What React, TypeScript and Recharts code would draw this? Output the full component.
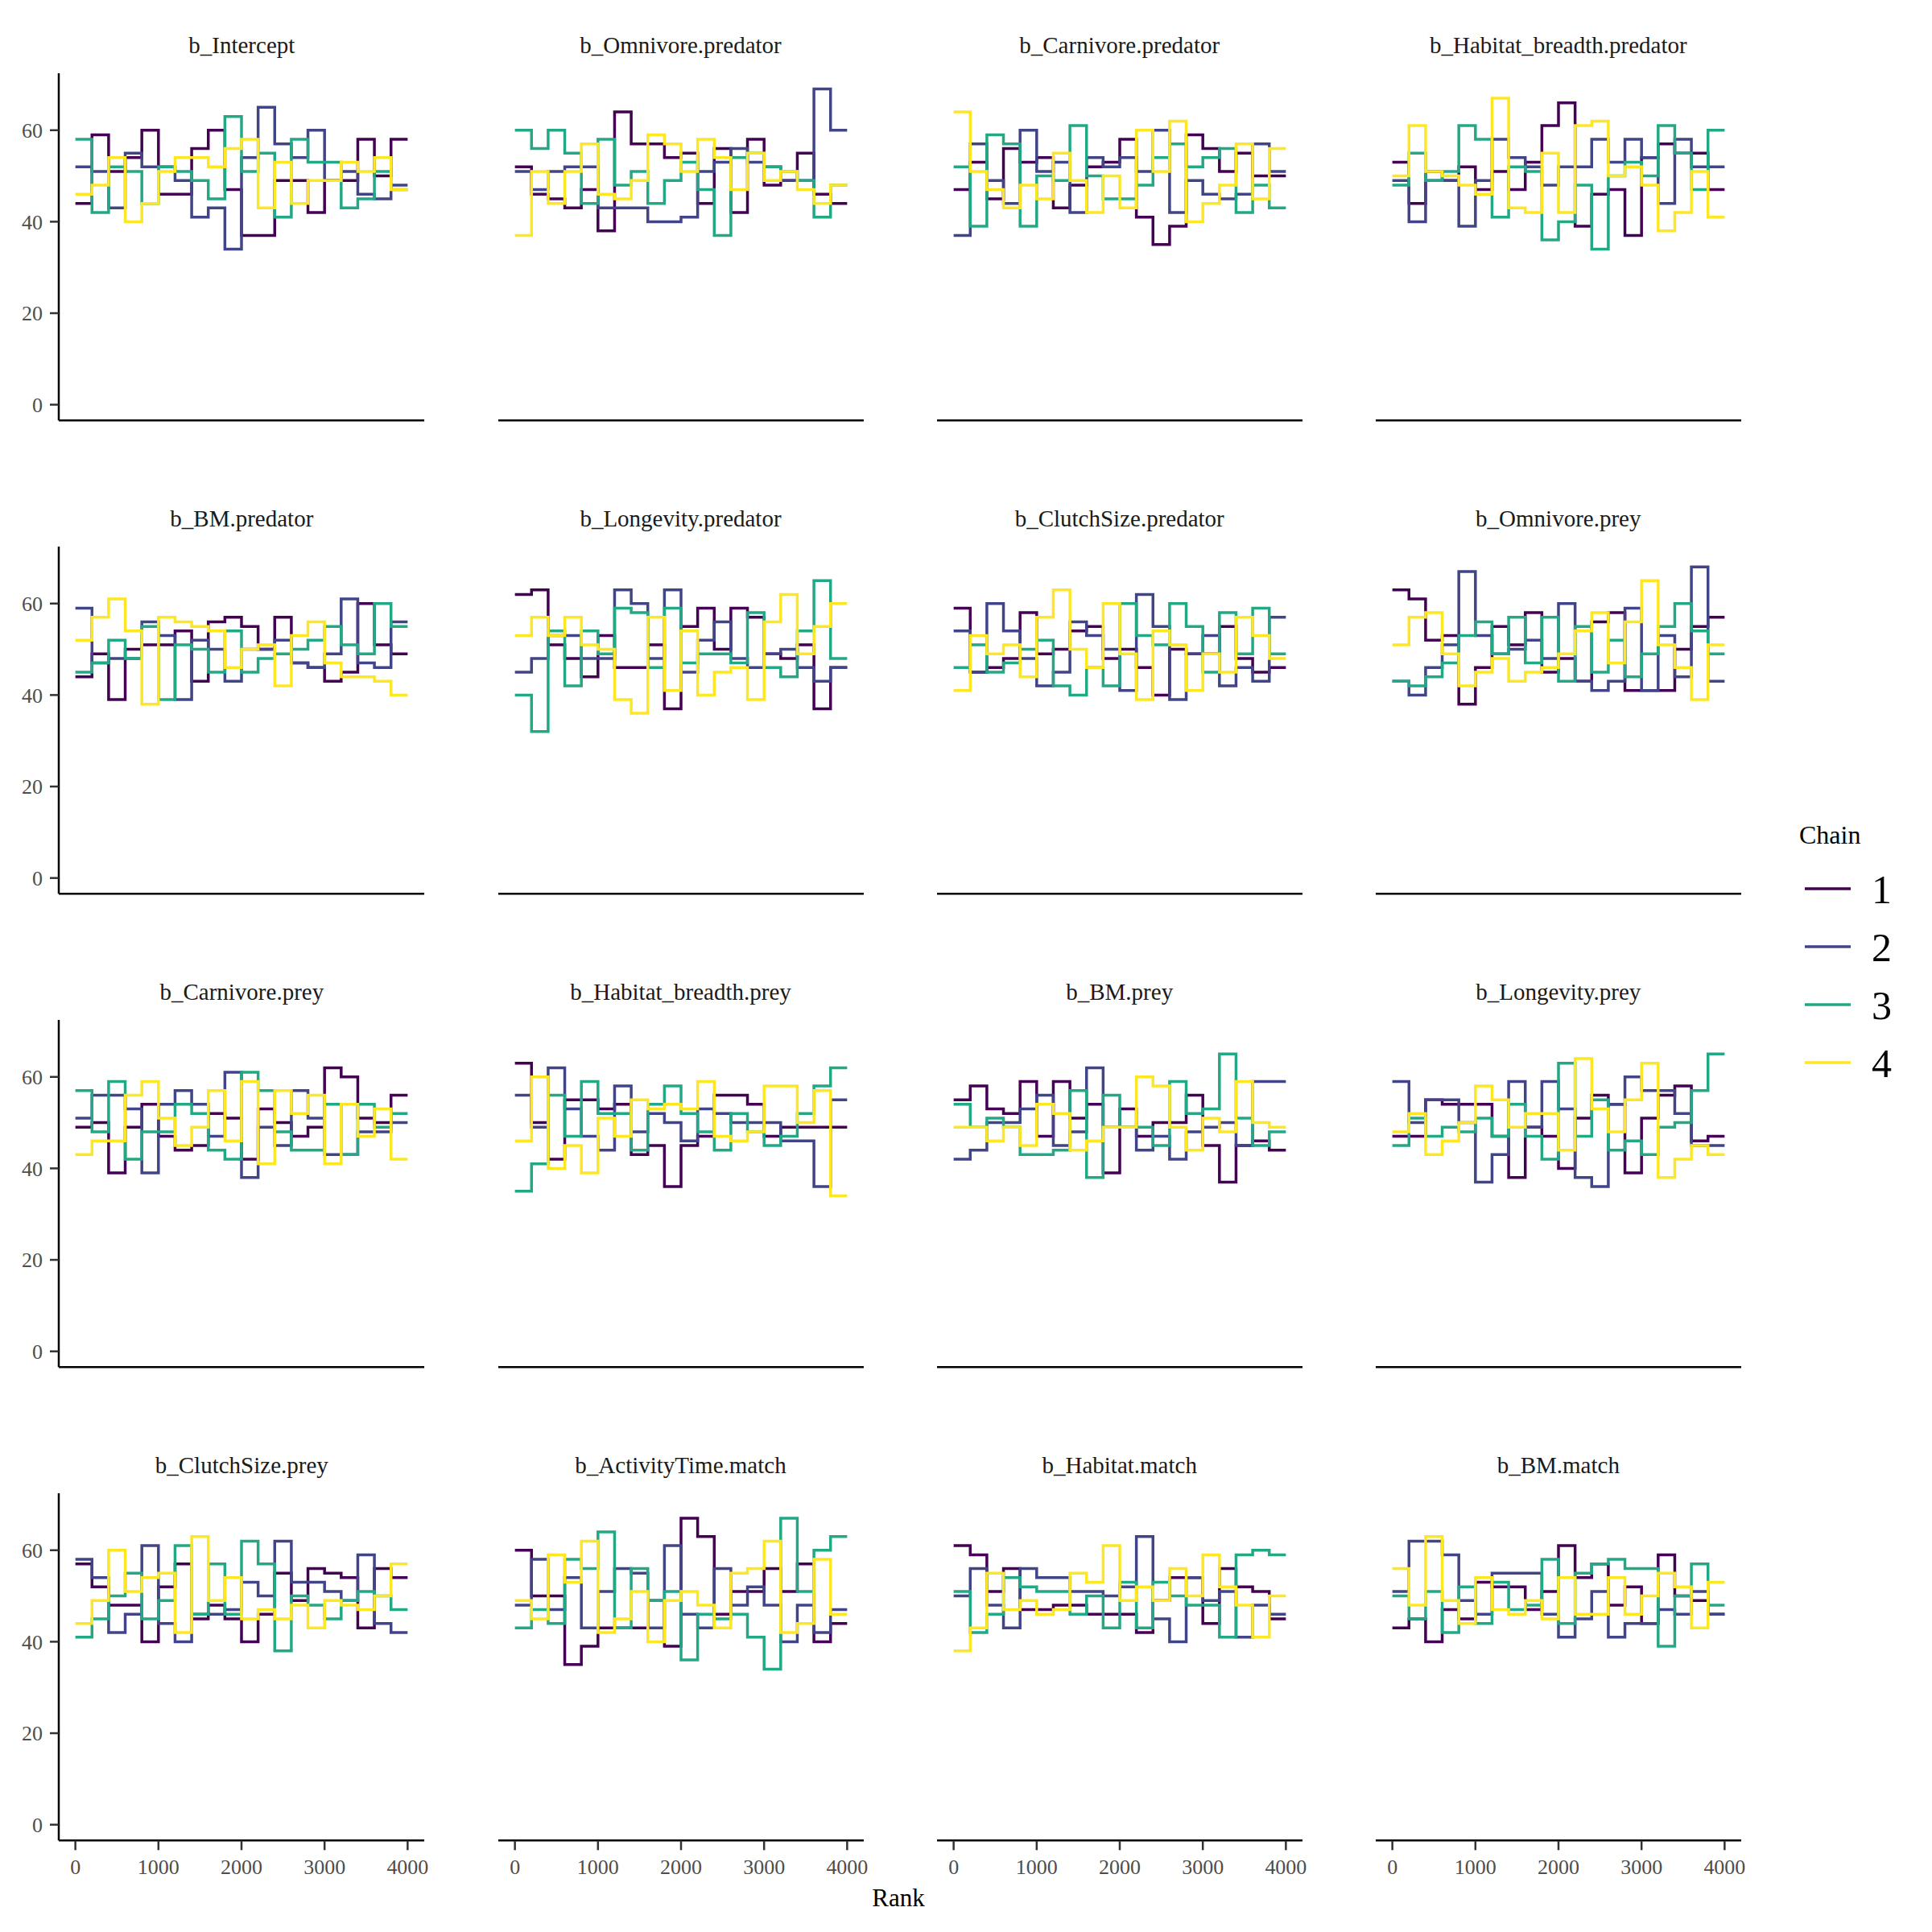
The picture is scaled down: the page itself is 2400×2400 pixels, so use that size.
import React from 'react';
import { LineChart, Line, XAxis, YAxis } from 'recharts';

// ============================================================================
// Data (rank histograms: 20 bins of 200 ranks, 4 chains per parameter)
// ============================================================================

const chains = ['1', '2', '3', '4'];
const chainColors = ['#440154', '#414487', '#22A884', '#FDE725'];
const binEdges = [0, 200, 400, 600, 800, 1000, 1200, 1400, 1600, 1800, 2000, 2200, 2400, 2600, 2800, 3000, 3200, 3400, 3600, 3800, 4000];
const rankTicks = [0, 1000, 2000, 3000, 4000];
const countTicks = [0, 20, 40, 60];

const panelTitles = [
  'b_Intercept', 'b_Omnivore.predator', 'b_Carnivore.predator', 'b_Habitat_breadth.predator',
  'b_BM.predator', 'b_Longevity.predator', 'b_ClutchSize.predator', 'b_Omnivore.prey',
  'b_Carnivore.prey', 'b_Habitat_breadth.prey', 'b_BM.prey', 'b_Longevity.prey',
  'b_ClutchSize.prey', 'b_ActivityTime.match', 'b_Habitat.match', 'b_BM.match',
];

const b_Intercept = [
  [44, 59, 51, 54, 60, 46, 46, 56, 60, 47, 37, 37, 49, 49, 42, 49, 49, 58, 50, 58],
  [52, 51, 43, 55, 52, 52, 49, 41, 43, 34, 54, 65, 57, 54, 60, 49, 51, 46, 45, 48],
  [58, 42, 52, 51, 44, 52, 51, 49, 45, 63, 51, 55, 41, 58, 53, 53, 43, 45, 51, 47],
  [46, 48, 54, 40, 44, 51, 54, 54, 52, 56, 58, 43, 53, 44, 49, 49, 53, 51, 54, 47],
];
const b_Omnivore_predator = [
  [52, 46, 45, 43, 47, 38, 64, 57, 57, 54, 55, 44, 56, 42, 58, 48, 49, 55, 46, 44],
  [51, 47, 51, 52, 52, 43, 43, 43, 40, 40, 41, 51, 53, 56, 53, 52, 49, 49, 69, 60],
  [60, 56, 60, 55, 44, 58, 48, 51, 44, 49, 53, 47, 37, 54, 55, 52, 51, 49, 41, 48],
  [37, 51, 44, 51, 57, 46, 45, 49, 59, 57, 51, 58, 54, 47, 55, 49, 51, 47, 44, 48],
];
const b_Carnivore_predator = [
  [47, 53, 45, 56, 53, 54, 43, 48, 52, 53, 58, 41, 35, 39, 59, 56, 51, 55, 50, 50],
  [37, 57, 49, 44, 60, 51, 53, 42, 54, 52, 54, 51, 60, 42, 49, 46, 45, 46, 57, 51],
  [52, 39, 59, 57, 39, 50, 49, 61, 50, 45, 45, 48, 54, 57, 52, 54, 56, 42, 48, 43],
  [64, 51, 47, 43, 48, 45, 55, 49, 42, 50, 43, 60, 51, 62, 40, 44, 48, 57, 45, 56],
];
const b_Habitat_breadth_predator = [
  [53, 44, 51, 49, 52, 47, 51, 47, 53, 61, 66, 39, 46, 47, 37, 54, 57, 55, 55, 47],
  [49, 40, 49, 49, 39, 49, 58, 54, 52, 48, 52, 52, 58, 53, 58, 54, 44, 58, 52, 52],
  [48, 55, 49, 51, 61, 58, 41, 52, 51, 36, 40, 48, 34, 50, 53, 50, 61, 55, 47, 60],
  [50, 61, 51, 50, 48, 46, 67, 43, 42, 55, 42, 61, 62, 50, 52, 48, 38, 42, 51, 41],
];
const b_BM_predator = [
  [44, 49, 39, 50, 51, 51, 54, 43, 56, 57, 55, 50, 57, 47, 46, 43, 45, 60, 51, 49],
  [59, 47, 48, 48, 56, 53, 39, 52, 50, 43, 50, 50, 52, 47, 46, 49, 61, 47, 46, 56],
  [45, 47, 52, 48, 55, 39, 51, 50, 45, 54, 45, 48, 49, 50, 52, 55, 51, 49, 60, 55],
  [52, 57, 61, 54, 38, 57, 56, 55, 54, 46, 50, 51, 42, 53, 56, 47, 44, 44, 43, 40],
];
const b_Longevity_predator = [
  [62, 63, 51, 48, 44, 53, 46, 46, 51, 37, 55, 59, 50, 59, 57, 49, 48, 51, 37, 46],
  [45, 48, 53, 53, 48, 48, 63, 60, 48, 63, 45, 52, 56, 48, 46, 49, 50, 46, 43, 46],
  [40, 32, 54, 42, 54, 49, 59, 58, 46, 59, 47, 49, 49, 47, 58, 46, 44, 54, 65, 48],
  [53, 57, 53, 57, 51, 50, 39, 36, 57, 41, 54, 40, 45, 46, 39, 56, 62, 49, 55, 60],
];
const b_ClutchSize_predator = [
  [59, 45, 46, 48, 58, 49, 50, 54, 55, 48, 50, 46, 40, 50, 49, 49, 55, 48, 45, 46],
  [54, 45, 60, 54, 48, 42, 45, 56, 53, 50, 41, 62, 55, 39, 49, 53, 42, 46, 43, 57],
  [46, 51, 45, 47, 50, 52, 42, 40, 46, 42, 60, 53, 51, 60, 55, 45, 58, 49, 59, 49],
  [41, 53, 49, 51, 44, 57, 63, 50, 46, 60, 49, 39, 54, 51, 41, 49, 45, 57, 53, 48],
];
const b_Omnivore_prey = [
  [63, 61, 52, 53, 38, 46, 55, 51, 58, 45, 48, 43, 56, 58, 41, 41, 41, 50, 55, 57],
  [43, 40, 46, 51, 67, 53, 49, 50, 52, 48, 60, 43, 41, 43, 59, 41, 53, 44, 68, 43],
  [43, 42, 44, 47, 53, 56, 49, 57, 47, 57, 43, 55, 45, 52, 44, 49, 55, 60, 54, 49],
  [51, 57, 58, 49, 42, 45, 48, 43, 45, 46, 49, 54, 58, 47, 56, 65, 51, 46, 39, 51],
];
const b_Carnivore_prey = [
  [49, 50, 39, 49, 54, 47, 44, 45, 52, 51, 42, 53, 50, 47, 49, 62, 60, 51, 50, 56],
  [51, 56, 56, 53, 39, 54, 57, 54, 47, 61, 38, 49, 45, 57, 51, 43, 43, 48, 48, 50],
  [57, 48, 59, 42, 48, 48, 54, 52, 44, 42, 61, 57, 48, 44, 44, 54, 43, 54, 49, 52],
  [43, 46, 46, 56, 59, 51, 45, 49, 57, 46, 59, 41, 57, 52, 56, 41, 54, 47, 53, 42],
];
const b_Habitat_breadth_prey = [
  [63, 50, 42, 55, 55, 53, 54, 43, 45, 36, 45, 47, 56, 56, 54, 47, 49, 49, 49, 49],
  [56, 49, 62, 53, 47, 44, 58, 48, 52, 50, 46, 53, 52, 50, 50, 50, 46, 46, 36, 55],
  [35, 41, 56, 47, 59, 52, 52, 44, 54, 58, 52, 48, 44, 52, 48, 45, 47, 52, 58, 62],
  [46, 60, 40, 45, 39, 51, 47, 55, 53, 54, 53, 59, 47, 46, 48, 58, 58, 50, 57, 34],
];
const b_BM_prey = [
  [55, 58, 53, 52, 59, 47, 59, 51, 54, 39, 53, 47, 50, 50, 56, 45, 37, 45, 46, 44],
  [42, 44, 50, 50, 53, 56, 45, 48, 62, 49, 49, 44, 47, 42, 48, 49, 50, 45, 59, 59],
  [54, 49, 51, 49, 43, 43, 44, 57, 38, 56, 49, 49, 45, 59, 52, 53, 65, 51, 45, 48],
  [49, 49, 46, 49, 45, 54, 52, 44, 46, 49, 49, 60, 58, 49, 44, 51, 48, 59, 50, 49],
];
const b_Longevity_prey = [
  [47, 47, 55, 54, 54, 54, 47, 38, 49, 47, 40, 51, 56, 54, 39, 51, 56, 58, 46, 47],
  [59, 50, 55, 55, 50, 37, 43, 59, 49, 59, 53, 38, 36, 54, 60, 57, 57, 52, 45, 45],
  [45, 51, 47, 49, 48, 51, 47, 54, 47, 42, 63, 47, 55, 44, 46, 43, 49, 50, 57, 65],
  [48, 52, 43, 46, 50, 58, 55, 49, 52, 52, 44, 64, 53, 48, 55, 63, 38, 42, 45, 43],
];
const b_ClutchSize_prey = [
  [57, 52, 48, 48, 40, 52, 57, 45, 48, 45, 40, 46, 55, 49, 56, 55, 54, 43, 56, 54],
  [58, 54, 42, 46, 61, 44, 40, 46, 46, 47, 53, 50, 62, 53, 53, 51, 49, 59, 44, 42],
  [41, 45, 50, 55, 45, 49, 61, 46, 57, 46, 62, 57, 38, 50, 48, 45, 49, 51, 50, 47],
  [44, 49, 60, 51, 54, 55, 42, 63, 49, 54, 45, 47, 45, 48, 43, 49, 48, 47, 50, 57],
];
const b_ActivityTime_match = [
  [60, 50, 50, 35, 39, 43, 43, 43, 49, 39, 67, 63, 46, 51, 51, 56, 51, 57, 40, 44],
  [48, 58, 47, 54, 43, 51, 56, 55, 43, 61, 46, 43, 56, 48, 52, 48, 40, 48, 42, 47],
  [43, 47, 44, 58, 56, 64, 43, 56, 49, 51, 36, 46, 45, 46, 41, 34, 67, 51, 60, 63],
  [49, 45, 59, 53, 62, 42, 45, 51, 40, 49, 51, 48, 43, 55, 56, 62, 42, 44, 58, 46],
];
const b_Habitat_match = [
  [61, 59, 51, 56, 47, 47, 48, 48, 46, 46, 46, 42, 49, 54, 54, 44, 56, 52, 51, 45],
  [50, 56, 48, 43, 56, 54, 54, 51, 51, 50, 52, 63, 45, 40, 54, 49, 51, 41, 48, 46],
  [51, 42, 46, 54, 52, 51, 51, 46, 50, 43, 53, 43, 53, 50, 48, 48, 41, 59, 60, 59],
  [38, 43, 55, 47, 49, 46, 47, 55, 53, 61, 49, 52, 49, 56, 50, 59, 52, 48, 41, 50],
];
const b_BM_match = [
  [43, 45, 40, 47, 45, 53, 52, 52, 47, 51, 61, 54, 57, 48, 52, 44, 59, 50, 49, 46],
  [51, 62, 62, 59, 49, 46, 55, 55, 55, 46, 41, 45, 51, 41, 44, 44, 47, 46, 51, 46],
  [50, 45, 51, 42, 52, 44, 53, 47, 48, 58, 44, 55, 57, 58, 56, 56, 39, 50, 57, 48],
  [56, 48, 63, 49, 44, 54, 47, 46, 49, 45, 54, 46, 46, 54, 46, 50, 55, 52, 43, 53],
];

const panelValues = [
  b_Intercept, b_Omnivore_predator, b_Carnivore_predator, b_Habitat_breadth_predator,
  b_BM_predator, b_Longevity_predator, b_ClutchSize_predator, b_Omnivore_prey,
  b_Carnivore_prey, b_Habitat_breadth_prey, b_BM_prey, b_Longevity_prey,
  b_ClutchSize_prey, b_ActivityTime_match, b_Habitat_match, b_BM_match,
];

// ============================================================================
// Layout
// ============================================================================

const FONT = "'Liberation Serif', 'Times New Roman', serif";
const PLOT_LEFT = [73.3, 618.5, 1163.7, 1708.8];
const PLOT_TOP = [91.3, 679.3, 1267.3, 1855.3];
const PLOT_W = 454;
const PLOT_H = 431.3;
const AXIS_STROKE = { stroke: '#000000', strokeWidth: 2.5 };
const TICK_STROKE = { stroke: '#333333', strokeWidth: 2.5 };
const TICK_TEXT = { fontSize: 26, fill: '#4D4D4D', fontFamily: FONT };

function buildRows(values: number[][]) {
  return binEdges.map((rank, i) => {
    const k = Math.min(i, values[0].length - 1);
    const row: Record<string, number> = { rank };
    values.forEach((v, c) => {
      row['c' + chains[c]] = v[k];
    });
    return row;
  });
}

function RankPanel({ values, row, col }: { values: number[][]; row: number; col: number }) {
  const data = buildRows(values);
  const firstCol = col === 0;
  const lastRow = row === 3;
  const yW = firstCol ? 73 : 0;
  const xH = lastRow ? 70 : 6;
  const rightPad = 10;

  return (
    <div style={{ position: 'absolute', left: PLOT_LEFT[col] - yW, top: PLOT_TOP[row] }}>
      <LineChart
        width={yW + PLOT_W + rightPad}
        height={PLOT_H + xH}
        data={data}
        margin={{ top: 0, right: rightPad, bottom: 0, left: 0 }}
      >
        <XAxis
          dataKey="rank"
          type="number"
          domain={[-200, 4200]}
          ticks={rankTicks}
          allowDataOverflow
          interval={0}
          height={xH}
          axisLine={AXIS_STROKE}
          tick={lastRow ? TICK_TEXT : false}
          tickLine={lastRow ? TICK_STROKE : false}
          tickSize={12}
          tickMargin={11}
        />
        <YAxis
          type="number"
          domain={[-3.45, 72.45]}
          ticks={countTicks}
          allowDataOverflow
          interval={0}
          hide={!firstCol}
          width={yW}
          axisLine={AXIS_STROKE}
          tick={TICK_TEXT}
          tickLine={TICK_STROKE}
          tickSize={11}
          tickMargin={9}
        />
        {chains.map((ch, c) => (
          <Line
            key={ch}
            dataKey={'c' + ch}
            type="stepAfter"
            stroke={chainColors[c]}
            strokeWidth={3.5}
            dot={false}
            activeDot={false}
            isAnimationActive={false}
          />
        ))}
      </LineChart>
    </div>
  );
}

export default function App() {
  return (
    <div
      style={{
        position: 'absolute',
        left: 0,
        top: 0,
        width: 2400,
        height: 2400,
        background: '#ffffff',
        overflow: 'hidden',
        fontFamily: FONT,
      }}
    >
      {panelValues.map((values, i) => (
        <RankPanel key={panelTitles[i]} values={values} row={Math.floor(i / 4)} col={i % 4} />
      ))}

      <svg width={2400} height={2400} style={{ position: 'absolute', left: 0, top: 0, pointerEvents: 'none' }}>
        {panelTitles.map((t, i) => (
          <text
            key={t}
            x={PLOT_LEFT[i % 4] + PLOT_W / 2}
            y={66 + Math.floor(i / 4) * 588}
            textAnchor="middle"
            fontFamily={FONT}
            fontSize={29}
            fill="#1A1A1A"
          >
            {t}
          </text>
        ))}

        <text x={1116} y={2368} textAnchor="middle" fontFamily={FONT} fontSize={31} fill="#000000">
          Rank
        </text>

        {/* legend */}
        <text x={2235} y={1048} fontFamily={FONT} fontSize={32} fill="#000000">
          Chain
        </text>
        {chains.map((ch, c) => {
          const y = 1104 + c * 72;
          return (
            <g key={ch}>
              <line x1={2242} x2={2299} y1={y} y2={y} stroke={chainColors[c]} strokeWidth={3.5} />
              <text x={2325} y={y + 18} fontFamily={FONT} fontSize={50} fill="#000000">
                {ch}
              </text>
            </g>
          );
        })}
      </svg>
    </div>
  );
}
